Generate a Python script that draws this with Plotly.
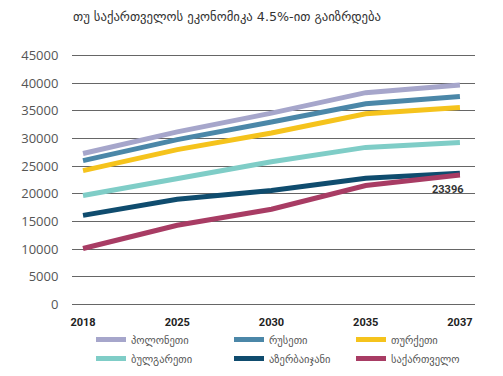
import plotly.graph_objects as go

years = ["2018", "2025", "2030", "2035", "2037"]
poland = [27300, 31200, 34600, 38300, 39700]
russia = [26000, 29800, 33000, 36300, 37600]
turkey = [24200, 28000, 31000, 34500, 35600]
bulgaria = [19700, 22800, 25800, 28400, 29300]
azerbaijan = [16100, 19000, 20600, 22800, 23700]
georgia = [10100, 14300, 17200, 21500, 23396]

names = ["პოლონეთი", "რუსეთი", "თურქეთი", "ბულგარეთი", "აზერბაიჯანი", "საქართველო"]
colors = ["#a6a6cb", "#4b87a8", "#f5c31c", "#7fcdc7", "#0f4c6e", "#a83c64"]
series = [poland, russia, turkey, bulgaria, azerbaijan, georgia]
legend_ids = ["legend", "legend2", "legend3", "legend", "legend2", "legend3"]

title_text = "თუ საქართველოს ეკონომიკა 4.5%-ით გაიზრდება"
y_ticks = [0, 5000, 10000, 15000, 20000, 25000, 30000, 35000, 40000, 45000]

xs = list(range(len(years)))
fig = go.Figure()
for name, color, vals, lg in zip(names, colors, series, legend_ids):
    fig.add_trace(go.Scatter(x=xs, y=vals, name=name, mode="lines",
                             line=dict(color=color, width=5),
                             legend=lg))

font_family = "DejaVu Sans, Noto Sans, sans-serif"
leg_common = dict(orientation="v", yref="container", yanchor="top", y=1 - 325/376,
                  xref="container", xanchor="left",
                  font=dict(size=10.5, color="#555555", family=font_family),
                  bgcolor="rgba(0,0,0,0)", tracegroupgap=0, itemwidth=30)
fig.update_layout(
    width=503, height=376,
    margin=dict(l=72, r=28, t=54, b=70, autoexpand=False),
    paper_bgcolor="white", plot_bgcolor="white",
    font=dict(family=font_family),
    title=dict(text=title_text, x=73/503, xanchor="left", y=1-17/376, yanchor="middle",
               font=dict(size=12.7, color="#333333", family=font_family)),
    xaxis=dict(tickmode="array", tickvals=xs, ticktext=["<b>%s</b>" % y for y in years],
               range=[-0.117, 4.16], showgrid=False, zeroline=False, showline=False,
               ticks="outside", ticklen=6, tickcolor="white",
               tickfont=dict(size=11, color="#222222", family="Roboto"),
               ),
    yaxis=dict(range=[-300, 45300], tickvals=y_ticks, ticktext=[str(v) for v in y_ticks],
               showgrid=True,
               gridcolor="#666666", gridwidth=1.3, zeroline=False, showline=False,
               ticks="outside", ticklen=10, tickcolor="white",
               tickfont=dict(size=13, color="#555555", family="Open Sans")),
    legend=dict(**leg_common, x=(99 - 8) / 503),
    legend2=dict(**leg_common, x=(237 - 8) / 503),
    legend3=dict(**leg_common, x=(359 - 8) / 503),
    showlegend=True,
)
fig.add_annotation(x=4, y=georgia[-1], text="<b>23396</b>", showarrow=False,
                   xanchor="right", yanchor="top", xshift=6, yshift=-6,
                   font=dict(size=11, color="#333333", family="Roboto"))
fig.write_html("out.html", config={"displayModeBar": False},
               post_script="document.body.style.margin='0';")
